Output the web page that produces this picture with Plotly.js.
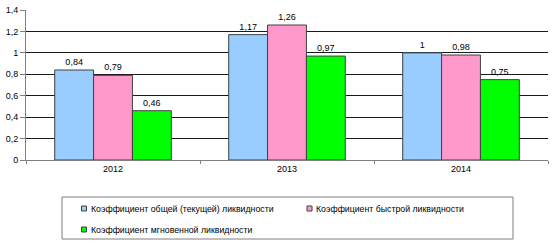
<!DOCTYPE html>
<html>
<head>
<meta charset="utf-8">
<script src="https://cdn.plot.ly/plotly-3.0.1.min.js"></script>
<style>html,body{margin:0;padding:0;background:#fff;}#chart{width:552px;height:243px;}</style>
</head>
<body>
<div id="chart"></div>
<script>
var years = ['2012', '2013', '2014'];
var seriesNames = ['Коэффициент общей (текущей) ликвидности', 'Коэффициент быстрой ликвидности', 'Коэффициент мгновенной ликвидности'];
var currentRatio = [0.84, 1.17, 1];
var quickRatio = [0.79, 1.26, 0.98];
var cashRatio = [0.46, 0.97, 0.75];
var seriesColors = ['#99CCFF', '#FF99CC', '#00FF00'];
var yTicks = [0, 0.2, 0.4, 0.6, 0.8, 1, 1.2, 1.4];

var W = 552, H = 243;
var M = {l: 26, r: 4, t: 10, b: 83};
var pw = W - M.l - M.r, ph = H - M.t - M.b;
function px(x) { return (x - M.l) / pw; }
function py(y) { return (H - M.b - y) / ph; }

var values = [currentRatio, quickRatio, cashRatio];
var fontFam = 'Liberation Sans, Arial, sans-serif';

var traces = values.map(function (v, i) {
  return {
    type: 'bar', x: years, y: v, name: seriesNames[i],
    marker: {color: seriesColors[i], line: {color: '#404040', width: 1}},
    text: v.map(function (n) { return String(n).replace('.', ','); }),
    textposition: 'outside', cliponaxis: false,
    textfont: {family: fontFam, size: 9, color: '#000'},
    hoverinfo: 'skip'
  };
});

var shapes = [{type: 'rect', xref: 'paper', yref: 'paper', x0: px(62), x1: px(513), y0: py(197), y1: py(239),
  line: {color: '#7f7f7f', width: 1}, fillcolor: 'rgba(0,0,0,0)'}];
var annotations = [];
var legPos = [[84, 208.5], [309.5, 208.5], [84, 229.5]];
seriesNames.forEach(function (n, i) {
  var cx = legPos[i][0], cy = legPos[i][1];
  shapes.push({type: 'rect', xref: 'paper', yref: 'paper', x0: px(cx - 2.5), x1: px(cx + 2.5), y0: py(cy + 2.5), y1: py(cy - 2.5),
    line: {color: '#404040', width: 1}, fillcolor: seriesColors[i]});
  annotations.push({xref: 'paper', yref: 'paper', x: px(cx + 4.5), y: py(cy), xanchor: 'left', yanchor: 'middle',
    text: n, showarrow: false, font: {family: fontFam, size: 8.75, color: '#000'}});
});

var layout = {
  width: W, height: H, margin: M, paper_bgcolor: '#fff', plot_bgcolor: '#fff',
  separators: ', ', showlegend: false, barmode: 'group', bargap: 0.33, bargroupgap: 0,
  font: {family: fontFam, size: 9, color: '#000'},
  xaxis: {type: 'category', showline: true, linecolor: '#808080', linewidth: 1, ticks: 'outside', tickson: 'boundaries',
    ticklen: 3, tickcolor: '#808080', showgrid: false, tickfont: {size: 9}},
  yaxis: {range: [0, 1.4], tickvals: yTicks, ticktext: yTicks.map(function (t) { return String(t).replace('.', ','); }),
    showline: true, linecolor: '#808080', linewidth: 1, ticks: 'outside', ticklen: 5, tickcolor: '#808080',
    showgrid: true, gridcolor: '#1a1a1a', gridwidth: 1, zeroline: false, tickfont: {size: 9}},
  shapes: shapes, annotations: annotations
};

Plotly.newPlot('chart', traces, layout, {staticPlot: true, displayModeBar: false});
</script>
</body>
</html>
